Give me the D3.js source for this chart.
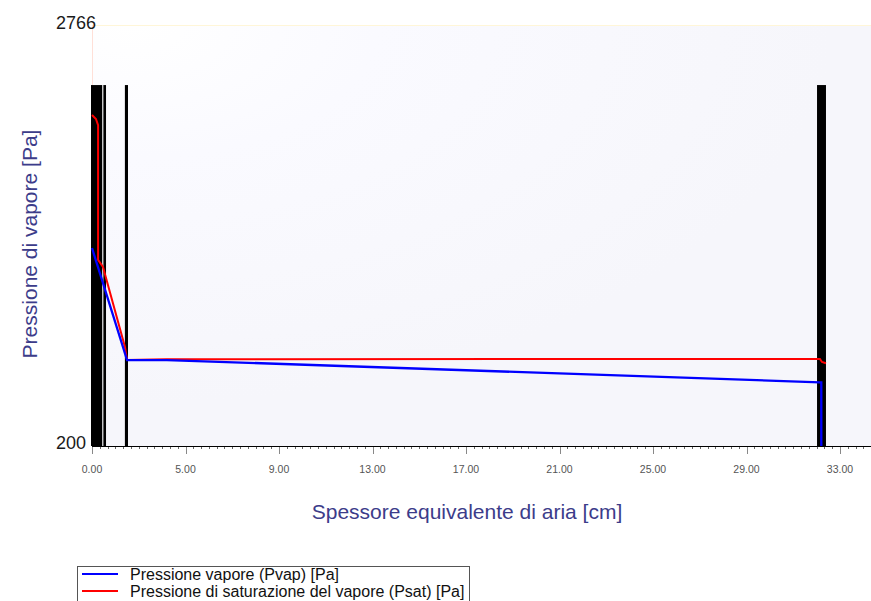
<!DOCTYPE html>
<html><head><meta charset="utf-8">
<script src="https://cdn.jsdelivr.net/npm/d3@7"></script>
<style>body{margin:0;background:#fff}svg{display:block}text{font-family:"Liberation Sans",Arial,sans-serif}</style>
</head><body><svg id="c" width="871" height="601"></svg>
<script>
// ---- data ----
const xTickValues = [0, 4, 8, 12, 16, 20, 24, 28, 32];
const xTickLabels = ["0.00", "5.00", "9.00", "13.00", "17.00", "21.00", "25.00", "29.00", "33.00"];
const yMin = 200, yMax = 2766;
const pvapX = [0, 1.50, 3.2, 31.14, 31.2, 31.2];
const pvapY = [1407, 724, 724, 588, 588, 200];
const psatX = [0, 0.17, 0.26, 0.26, 0.47, 1.41, 1.50, 3.2, 31.14, 31.23, 31.4];
const psatY = [2217, 2193, 2156, 1334, 1291, 804, 724, 729, 730, 712, 704];
const layerStart = [0, 0.51, 1.45, 31.06];
const layerEnd = [0.43, 0.60, 1.54, 31.40];
const layerTop = 2400;
const seriesNames = ["Pressione vapore (Pvap) [Pa]", "Pressione di saturazione del vapore (Psat) [Pa]"];
const seriesColors = ["#0000ff", "#ff0000"];

const svg = d3.select("#c");
const L = 92, R = 871, T = 25, B = 446;
const x = d3.scaleLinear().domain([0, 32]).range([L, 840]);
const y = d3.scaleLinear().domain([yMin, yMax]).range([B, T]);

// background
const defs = svg.append("defs");
const g1 = defs.append("radialGradient").attr("id", "bg").attr("cx", "0.05").attr("cy", "0").attr("r", "0.9");
g1.append("stop").attr("offset", "0").attr("stop-color", "#ffffff");
g1.append("stop").attr("offset", "0.35").attr("stop-color", "#fafaff");
g1.append("stop").attr("offset", "1").attr("stop-color", "#f6f6fb");
svg.append("rect").attr("x", L).attr("y", T).attr("width", R - L).attr("height", B - T).attr("fill", "url(#bg)");
svg.append("line").attr("x1", L).attr("x2", R).attr("y1", T + 0.5).attr("y2", T + 0.5).attr("stroke", "#fff6d8").attr("stroke-width", 1);
svg.append("line").attr("x1", L + 0.5).attr("x2", L + 0.5).attr("y1", T).attr("y2", B).attr("stroke", "#ffe0d8").attr("stroke-width", 1);

// layers
svg.selectAll("rect.layer").data(layerStart).join("rect").attr("class", "layer")
  .attr("x", (d) => x(d) - 1)
  .attr("y", y(layerTop))
  .attr("width", (d, i) => x(layerEnd[i]) - x(d) + 1)
  .attr("height", y(yMin) - y(layerTop))
  .attr("fill", "#000");
svg.append("line").attr("x1", x(0.43) + 1).attr("x2", x(0.43) + 1).attr("y1", y(layerTop)).attr("y2", B).attr("stroke", "#aaa").attr("stroke-width", 1);

// lines
const line = d3.line().x((d) => x(d[0])).y((d) => y(d[1]));
svg.append("path").datum(psatX.map((v, i) => [v, psatY[i]])).attr("d", line)
  .attr("fill", "none").attr("stroke", seriesColors[1]).attr("stroke-width", 2);
svg.append("path").datum(pvapX.map((v, i) => [v, pvapY[i]])).attr("d", line)
  .attr("fill", "none").attr("stroke", seriesColors[0]).attr("stroke-width", 2.3);

// x axis
const ax = svg.append("g").attr("transform", `translate(0,${B})`);
ax.append("line").attr("x1", L).attr("x2", R).attr("y1", 0.5).attr("y2", 0.5).attr("stroke", "#000");
const minor = d3.range(0, 34.01, 1 / 3).filter((v) => x(v) <= R);
ax.selectAll("line.mn").data(minor).join("line").attr("class", "mn")
  .attr("x1", (d) => Math.round(x(d)) + 0.5).attr("x2", (d) => Math.round(x(d)) + 0.5)
  .attr("y1", 1).attr("y2", 3).attr("stroke", "#666");
ax.selectAll("line.mj").data(xTickValues).join("line").attr("class", "mj")
  .attr("x1", (d) => Math.round(x(d)) + 0.5).attr("x2", (d) => Math.round(x(d)) + 0.5)
  .attr("y1", 1).attr("y2", 8).attr("stroke", "#888");
ax.selectAll("text").data(xTickValues).join("text")
  .attr("x", (d) => x(d)).attr("y", 27).attr("text-anchor", "middle")
  .attr("font-size", 10.5).attr("fill", "#555").text((d, i) => xTickLabels[i]);

// y labels
svg.append("text").attr("x", 96).attr("y", 29).attr("text-anchor", "end").attr("font-size", 18).attr("fill", "#1a1a1a").text(String(yMax));
svg.append("text").attr("x", 86).attr("y", 448.5).attr("text-anchor", "end").attr("font-size", 18).attr("fill", "#1a1a1a").text(String(yMin));

// titles
svg.append("text").attr("x", 467).attr("y", 519).attr("text-anchor", "middle").attr("font-size", 21).attr("fill", "#3c3c8a").text("Spessore equivalente di aria [cm]");
svg.append("text").attr("transform", "translate(37,244) rotate(-90)").attr("text-anchor", "middle").attr("font-size", 21).attr("fill", "#3c3c8a").text("Pressione di vapore [Pa]");

// legend
const lg = svg.append("g");
lg.append("rect").attr("x", 77.5).attr("y", 566.5).attr("width", 392).attr("height", 40).attr("fill", "#fff").attr("stroke", "#555");
seriesNames.forEach((n, i) => {
  const yy = 574 + i * 17;
  lg.append("line").attr("x1", 82).attr("x2", 118).attr("y1", yy).attr("y2", yy).attr("stroke", seriesColors[i]).attr("stroke-width", 2);
  lg.append("text").attr("x", 130).attr("y", yy + 5.5).attr("font-size", 16).attr("fill", "#111").text(n);
});
</script></body></html>
